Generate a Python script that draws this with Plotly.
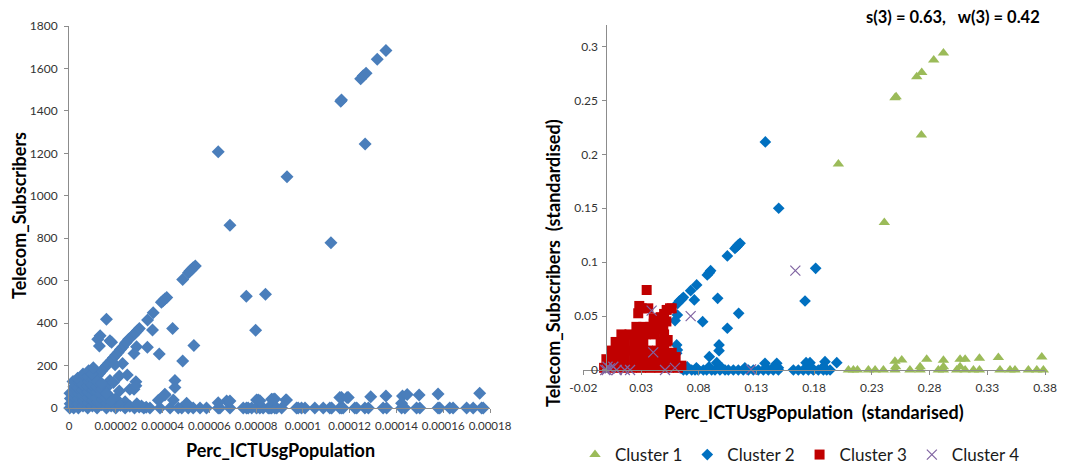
import plotly.graph_objects as go

# ---------------- Left chart: raw values ----------------
raw_x = [
    13.55e-5, 13.18e-5, 12.70e-5, 12.58e-5, 12.47e-5, 11.65e-5, 11.62e-5, 12.66e-5, 6.38e-5, 9.32e-5,
    6.88e-5, 11.20e-5, 7.58e-5, 8.40e-5, 7.98e-5,
    5.40e-5, 5.31e-5, 5.24e-5, 5.17e-5, 5.11e-5, 4.86e-5, 4.18e-5, 4.10e-5, 4.01e-5, 3.95e-5,
    3.60e-5, 3.36e-5, 3.01e-5, 2.92e-5, 2.82e-5, 2.75e-5, 2.55e-5, 2.47e-5, 2.41e-5, 2.30e-5,
    2.20e-5, 2.10e-5, 2.00e-5, 1.90e-5, 1.80e-5, 1.70e-5, 1.60e-5, 1.50e-5, 1.40e-5, 1.30e-5, 1.20e-5,
    1.60e-5, 1.33e-5, 1.23e-5, 1.30e-5, 1.75e-5, 1.82e-5, 3.57e-5, 4.43e-5, 3.35e-5, 2.89e-5,
    5.34e-5, 3.86e-5, 4.86e-5, 2.78e-5, 2.29e-5, 1.97e-5, 2.49e-5, 2.15e-5, 2.86e-5, 4.53e-5,
    4.53e-5, 4.10e-5, 2.60e-5, 2.78e-5, 2.15e-5, 1.75e-5, 2.86e-5, 1.45e-5, 1.60e-5, 1.90e-5,
    1.70e-5, 2.00e-5, 2.40e-5, 1.20e-5, 1.00e-5, 0.50e-5,
    # dense wedge near the origin
    0.03e-5, 0.05e-5, 0.06e-5, 0.04e-5, 0.20e-5, 0.18e-5, 0.22e-5, 0.19e-5, 0.21e-5, 0.17e-5,
    0.40e-5, 0.38e-5, 0.42e-5, 0.41e-5, 0.39e-5, 0.43e-5, 0.37e-5,
    0.60e-5, 0.62e-5, 0.58e-5, 0.61e-5, 0.59e-5, 0.63e-5, 0.60e-5,
    0.80e-5, 0.82e-5, 0.78e-5, 0.81e-5, 0.79e-5, 0.83e-5, 0.80e-5, 0.84e-5,
    1.00e-5, 1.02e-5, 0.98e-5, 1.01e-5, 0.99e-5, 1.03e-5, 1.00e-5, 1.04e-5,
    1.20e-5, 1.22e-5, 1.18e-5, 1.21e-5, 1.19e-5, 1.23e-5,
    1.40e-5, 1.42e-5, 1.38e-5, 1.41e-5, 1.39e-5,
    1.60e-5, 1.62e-5, 1.58e-5, 1.61e-5, 1.80e-5, 1.82e-5,
    2.00e-5, 2.20e-5, 2.40e-5, 2.60e-5, 2.80e-5, 3.00e-5, 3.20e-5, 2.90e-5, 3.10e-5, 3.30e-5,
    # bottom strip
    3.46e-5, 3.89e-5, 4.32e-5, 4.67e-5, 4.82e-5, 5.10e-5, 5.31e-5, 5.60e-5, 5.88e-5, 6.38e-5,
    6.45e-5, 6.88e-5, 7.45e-5, 7.59e-5, 7.66e-5, 7.81e-5, 8.02e-5, 8.16e-5, 8.30e-5, 8.52e-5,
    8.59e-5, 8.66e-5, 8.80e-5, 8.88e-5, 9.09e-5, 9.73e-5, 9.80e-5, 9.94e-5, 10.09e-5, 10.51e-5,
    10.87e-5, 11.15e-5, 11.23e-5, 11.58e-5, 11.65e-5, 11.72e-5, 12.22e-5, 12.30e-5, 12.65e-5, 12.80e-5,
    13.43e-5, 13.58e-5, 14.22e-5, 14.36e-5, 14.86e-5, 15.00e-5, 15.78e-5, 15.85e-5, 16.28e-5, 16.42e-5,
    17.00e-5, 17.28e-5, 17.64e-5, 17.71e-5,
    6.74e-5, 8.09e-5, 8.73e-5, 9.30e-5, 11.65e-5, 11.94e-5, 12.90e-5, 13.55e-5, 14.26e-5, 14.46e-5,
    14.97e-5, 15.78e-5, 17.56e-5, 14.22e-5, 4.10e-5, 4.46e-5, 6.38e-5, 6.88e-5, 8.02e-5, 8.16e-5,
    8.66e-5, 8.80e-5, 9.27e-5, 11.58e-5, 11.89e-5, 3.82e-5, 5.03e-5,
]
raw_y = [
    1685, 1643, 1577, 1566, 1552, 1451, 1445, 1244, 1208, 1090,
    861, 779, 526, 536, 366,
    669, 661, 653, 645, 637, 605, 521, 514, 504, 498,
    449, 415, 375, 364, 352, 344, 324, 312, 305, 288,
    276, 262, 250, 237, 224, 212, 200, 187, 175, 163, 150,
    418, 341, 324, 292, 317, 310, 367, 375, 286, 289,
    295, 254, 221, 257, 210, 204, 155, 151, 124, 129,
    97, 65, 88, 88, 80, 129, 105, 110, 95, 120,
    60, 45, 30, 90, 110, 65,
    0, 20, 45, 70, 0, 25, 50, 75, 100, 125,
    0, 20, 45, 70, 95, 120, 140,
    10, 35, 60, 85, 110, 135, 160,
    0, 25, 50, 75, 100, 125, 150, 175,
    10, 35, 60, 85, 110, 135, 160, 190,
    0, 25, 50, 75, 100, 125,
    15, 40, 65, 90, 115,
    0, 25, 50, 70, 10, 30,
    0, 12, 0, 8, 0, 5, 0, 20, 10, 3,
    0, 0, 0, 0, 0, 0, 0, 0, 0, 0,
    0, 0, 0, 0, 0, 0, 0, 0, 0, 0,
    0, 0, 0, 0, 0, 0, 0, 0, 0, 0,
    0, 0, 0, 0, 0, 0, 0, 0, 0, 0,
    0, 0, 0, 0, 0, 0, 0, 0, 0, 0,
    0, 0, 0, 0,
    33, 38, 41, 38, 50, 50, 53, 57, 57, 64,
    61, 66, 69, 22, 61, 38, 25, 33, 38, 34,
    41, 42, 38, 50, 49, 36, 22,
]

# ---------------- Right chart: standardised values by cluster ----------------
c1_x = [0.292, 0.2836, 0.2732, 0.2689, 0.251, 0.250, 0.2729, 0.201, 0.2408,
        0.2097, 0.214, 0.2175, 0.227, 0.2328, 0.240, 0.250, 0.2559, 0.263, 0.2718, 0.2775,
        0.2876, 0.292, 0.292, 0.3035, 0.3064, 0.3108, 0.3108, 0.318, 0.3232, 0.3232,
        0.3396, 0.341, 0.3497, 0.354, 0.3656, 0.3729, 0.3772, 0.3786, 0.250, 0.2506,
        0.2718, 0.3064, 0.292]
c1_y = [0.294, 0.2876, 0.276, 0.272, 0.2535, 0.2526, 0.218, 0.191, 0.1367,
        0.0, 0.0, 0.0, 0.0, 0.0, 0.0, 0.0, 0.0093, 0.0, 0.0, 0.0099,
        0.0, 0.009, 0.0, 0.0, 0.010, 0.010, 0.0, 0.0, 0.0108, 0.0,
        0.0116, 0.0, 0.0, 0.0, 0.0, 0.0, 0.012, 0.0, 0.008, 0.003,
        0.003, 0.003, 0.003]

c2_x = [0.1377, 0.1493, 0.1158, 0.1143, 0.1129, 0.1114, 0.1048, 0.0964, 0.0903, 0.0892,
        0.0874, 0.0782, 0.0730, 0.0762, 0.0667, 0.0652, 0.0632, 0.0618, 0.0615, 0.0595,
        0.0834, 0.1146, 0.1048, 0.1813, 0.1721, 0.0976, 0.0976, 0.0892, 0.0609, 0.0615,
        0.0609, 0.1996, 0.1894, 0.1880, 0.1764, 0.1730, 0.1476, 0.1490, 0.1374, 0.0956,
        0.0667, 0.0696, 0.0739, 0.0768, 0.0796, 0.0840, 0.0869, 0.0912, 0.0941, 0.0984,
        0.1028, 0.1057, 0.1100, 0.1143, 0.1186, 0.1230, 0.1273, 0.1316, 0.1360, 0.1403,
        0.1446, 0.1490, 0.1620, 0.1663, 0.1706, 0.1750, 0.1793, 0.1836, 0.1880, 0.1909,
        0.1938, 0.0700, 0.0780, 0.0890, 0.1000, 0.1200, 0.1450, 0.1780, 0.0620, 0.0640]
c2_y = [0.2115, 0.150, 0.1175, 0.1160, 0.1144, 0.1128, 0.1058, 0.0665, 0.0921, 0.0903,
        0.0881, 0.0789, 0.0736, 0.0650, 0.0674, 0.0656, 0.0640, 0.0618, 0.0510, 0.0458,
        0.0448, 0.0526, 0.0387, 0.0943, 0.0640, 0.0232, 0.0179, 0.0123, 0.0232, 0.0186,
        0.0155, 0.0068, 0.0077, 0.0030, 0.0068, 0.0068, 0.0062, 0.0020, 0.0062, 0.0068,
        0.0, 0.0, 0.0, 0.0, 0.0, 0.0, 0.0, 0.0, 0.0, 0.0,
        0.0, 0.0, 0.0, 0.0, 0.0, 0.0, 0.0, 0.0, 0.0, 0.0,
        0.0, 0.0, 0.0, 0.0, 0.0, 0.0, 0.0, 0.0, 0.0, 0.0,
        0.0, 0.003, 0.002, 0.003, 0.002, 0.002, 0.003, 0.002, 0.003, 0.002]

c3_x = [0.0349, 0.0285, 0.0306, 0.0276, 0.0363, 0.0522, 0.0551, 0.0566,
        0.0500, 0.0470, 0.0440, 0.0410, 0.0380, 0.0350, 0.0320,
        0.0493, 0.0531, 0.0566, 0.0450, 0.0522,
        -0.002, 0.006, 0.014, 0.022, 0.030, 0.038, 0.046, 0.054, 0.062, 0.065,
        0.000, 0.008, 0.016, 0.024, 0.032, 0.040, 0.048, 0.056,
        0.004, 0.012, 0.020, 0.028, 0.036, 0.044, 0.050,
        0.008, 0.016, 0.024, 0.032, 0.047,
        0.013, 0.020, 0.027, 0.034, 0.042, 0.050,
        0.026, 0.032, 0.045, 0.052, 0.058, 0.060, 0.041, 0.047]
c3_y = [0.0742, 0.0594, 0.0572, 0.0526, 0.0572, 0.0557, 0.0572, 0.0572,
        0.0520, 0.0490, 0.0460, 0.0430, 0.0400, 0.0370, 0.0340,
        0.0387, 0.0278, 0.0160, 0.0155, 0.0263,
        0.002, 0.002, 0.002, 0.002, 0.002, 0.002, 0.002, 0.002, 0.002, 0.004,
        0.010, 0.010, 0.010, 0.010, 0.010, 0.010, 0.010, 0.010,
        0.018, 0.018, 0.018, 0.018, 0.018, 0.018, 0.018,
        0.026, 0.026, 0.026, 0.026, 0.026,
        0.033, 0.033, 0.033, 0.033, 0.033, 0.033,
        0.040, 0.040, 0.040, 0.045, 0.006, 0.012, 0.048, 0.038]

c4_x = [0.0392, 0.0730, 0.1637, 0.0406, 0.1253, 0.0508, 0.0594, 0.0205, 0.0160,
        0.0030, 0.0060, 0.0003, -0.0010, 0.0089, 0.0010]
c4_y = [0.0550, 0.0500, 0.0921, 0.0164, 0.0006, 0.0, 0.0020, 0.0, 0.0,
        0.0015, 0.0030, 0.0, 0.0, 0.0, 0.0030]

# tick labels
left_x_ticks = [0, 0.00002, 0.00004, 0.00006, 0.00008, 0.0001, 0.00012, 0.00014, 0.00016, 0.00018]
left_x_text = ["0", "0.00002", "0.00004", "0.00006", "0.00008", "0.0001", "0.00012", "0.00014", "0.00016", "0.00018"]
left_y_ticks = [0, 200, 400, 600, 800, 1000, 1200, 1400, 1600, 1800]
left_y_text = ["0", "200", "400", "600", "800", "1000", "1200", "1400", "1600", "1800"]
right_x_ticks = [-0.02, 0.03, 0.08, 0.13, 0.18, 0.23, 0.28, 0.33, 0.38]
right_x_text = ["-0.02", "0.03", "0.08", "0.13", "0.18", "0.23", "0.28", "0.33", "0.38"]
right_y_ticks = [0, 0.05, 0.1, 0.15, 0.2, 0.25, 0.3]
right_y_text = ["0", "0.05", "0.1", "0.15", "0.2", "0.25", "0.3"]

FONT = "Lato"
OFF = 8                      # page body margin offset
W, H = 1078 - OFF, 465 - OFF  # figure size so the page fits the window


def fx(px):
    return (px - OFF) / W


def fy(py):
    return (H - (py - OFF)) / H


fig = go.Figure()

fig.add_trace(go.Scatter(x=raw_x, y=raw_y, mode="markers", showlegend=False, cliponaxis=False,
                         marker=dict(symbol="diamond", size=10, color="#4A7EBB"),
                         xaxis="x", yaxis="y"))

fig.add_trace(go.Scatter(x=c1_x, y=c1_y, mode="markers", name="Cluster 1", cliponaxis=False,
                         marker=dict(symbol="triangle-up", size=10, color="#9BBB59"),
                         xaxis="x2", yaxis="y2"))
fig.add_trace(go.Scatter(x=c2_x, y=c2_y, mode="markers", name="Cluster 2", cliponaxis=False,
                         marker=dict(symbol="diamond", size=9, color="#0070C0"),
                         xaxis="x2", yaxis="y2"))
fig.add_trace(go.Scatter(x=c3_x, y=c3_y, mode="markers", name="Cluster 3", cliponaxis=False,
                         marker=dict(symbol="square", size=10, color="#C00000"),
                         xaxis="x2", yaxis="y2"))
fig.add_trace(go.Scatter(x=c4_x, y=c4_y, mode="markers", name="Cluster 4", cliponaxis=False,
                         marker=dict(symbol="x-thin-open", size=10, color="#8064A2",
                                     line=dict(width=1.2, color="#8064A2")),
                         xaxis="x2", yaxis="y2"))

axis_common = dict(showgrid=False, zeroline=False, showline=True, linecolor="#8C8C8C", linewidth=1,
                   ticks="outside", ticklen=4, tickcolor="#8C8C8C", tickmode="array",
                   automargin=False, tickangle=0,
                   tickfont=dict(family=FONT, size=12, color="#333333"))

fig.update_layout(
    width=W, height=H, paper_bgcolor="white", plot_bgcolor="white",
    margin=dict(l=0, r=0, t=0, b=0, autoexpand=False),
    xaxis=dict(axis_common, domain=[fx(69), fx(490)], range=[0, 0.00018],
               tickvals=left_x_ticks, ticktext=left_x_text, anchor="y", ticklabelstandoff=3,
               tickfont=dict(family=FONT, size=11.5, color="#333333")),
    yaxis=dict(axis_common, domain=[fy(408), fy(26)], range=[0, 1800],
               tickvals=left_y_ticks, ticktext=left_y_text, anchor="x", ticklabelstandoff=4),
    xaxis2=dict(axis_common, domain=[fx(583.3), fx(1045)], range=[-0.02, 0.38],
                tickvals=right_x_ticks, ticktext=right_x_text, anchor="free",
                position=fy(370), ticklabelstandoff=3),
    yaxis2=dict(axis_common, domain=[fy(373), fy(25)], range=[-0.0028, 0.32],
                tickvals=right_y_ticks, ticktext=right_y_text, anchor="free",
                position=fx(606.4), ticklabelstandoff=2),
    legend=dict(orientation="h", x=fx(800), xanchor="center", y=fy(455), yanchor="middle",
                font=dict(family=FONT, size=17, color="#1a1a1a"), itemwidth=30,
                bgcolor="rgba(0,0,0,0)"),
    font=dict(family=FONT),
)

title_font = dict(family=FONT, size=18, color="#000000", weight="bold")
fig.add_annotation(text="Telecom_Subscribers", x=fx(19), y=fy(216), xref="paper", yref="paper",
                   textangle=-90, showarrow=False, font=title_font, xanchor="center", yanchor="middle")
fig.add_annotation(text="Perc_ICTUsgPopulation", x=fx(280), y=fy(450), xref="paper", yref="paper",
                   showarrow=False, font=title_font, xanchor="center", yanchor="middle")
fig.add_annotation(text="Telecom_Subscribers  (standardised)", x=fx(553), y=fy(263),
                   xref="paper", yref="paper", textangle=-90, showarrow=False, font=title_font,
                   xanchor="center", yanchor="middle")
fig.add_annotation(text="Perc_ICTUsgPopulation  (standarised)", x=fx(814), y=fy(412),
                   xref="paper", yref="paper", showarrow=False, font=title_font,
                   xanchor="center", yanchor="middle")
fig.add_annotation(text="s(3) = 0.63,   w(3) = 0.42", x=fx(1042), y=fy(17),
                   xref="paper", yref="paper", showarrow=False,
                   font=dict(family=FONT, size=16.5, color="#000000", weight="bold"),
                   xanchor="right", yanchor="middle")

fig.write_html("out.html")
